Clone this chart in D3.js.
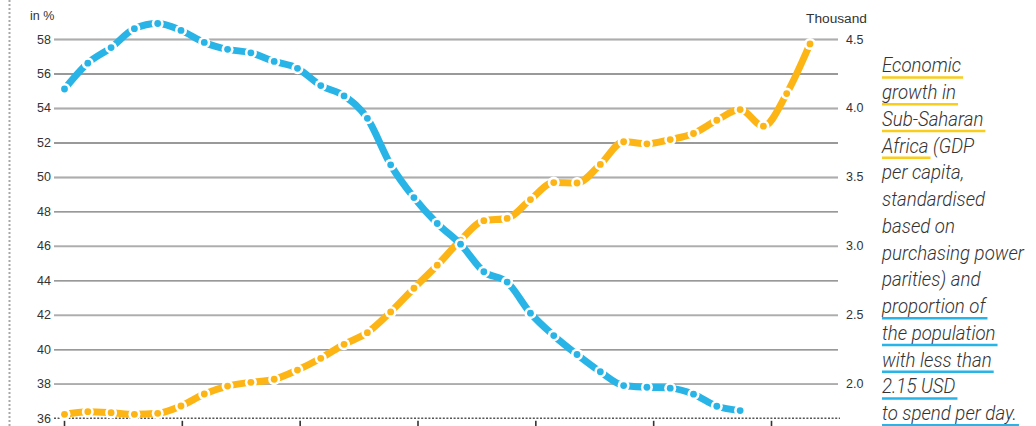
<!DOCTYPE html>
<html>
<head>
<meta charset="utf-8">
<script src="https://cdn.jsdelivr.net/npm/d3@7"></script>
<style>
  html, body { margin: 0; padding: 0; background: #fff; }
  svg { display: block; }
  .axis text { font-family: "Liberation Sans", Arial, sans-serif; font-size: 12.5px; fill: #333; }
  .unit { font-family: "Liberation Sans", Arial, sans-serif; font-size: 12.5px; fill: #333; }
  .legend text { font-family: Roboto, "Liberation Sans", sans-serif; font-style: italic; font-weight: 300; font-size: 19.5px; fill: #333; }
</style>
</head>
<body>
<svg id="chart" width="1036" height="426"></svg>
<script>
// Years covered by the two series
const years = d3.range(1990, 2023);

// Share of population living on less than 2.15 USD a day (in %), 1990–2019
const povertyShare = [
  55.1, 56.6, 57.5, 58.6, 58.9, 58.5, 57.8, 57.4, 57.2, 56.7,
  56.3, 55.3, 54.7, 53.4, 50.7, 48.8, 47.3, 46.1, 44.5, 43.9,
  42.1, 40.8, 39.7, 38.7, 37.9, 37.8, 37.75, 37.4, 36.7, 36.45
];

// GDP per capita, PPP (thousand), 1990–2022
const gdpPerCapita = [
  1.779, 1.798, 1.791, 1.779, 1.786, 1.839, 1.926, 1.984, 2.011, 2.033,
  2.100, 2.185, 2.286, 2.371, 2.521, 2.693, 2.860, 3.041, 3.183, 3.199,
  3.336, 3.459, 3.456, 3.591, 3.755, 3.740, 3.771, 3.815, 3.911, 3.988,
  3.868, 4.104, 4.464
];

// Axis ticks
const leftTicks = [36, 38, 40, 42, 44, 46, 48, 50, 52, 54, 56, 58];
const rightTicks = [2.0, 2.5, 3.0, 3.5, 4.0, 4.5];
const tickYears = [1990, 1995, 2000, 2005, 2010, 2015, 2020];

// Side caption, one entry per line; ul = underlined part
const legendLines = [
  { text: "Economic", ul: "Economic", series: "gdp" },
  { text: "growth in", ul: "growth in", series: "gdp" },
  { text: "Sub-Saharan", ul: "Sub-Saharan", series: "gdp" },
  { text: "Africa (GDP", ul: "Africa", series: "gdp" },
  { text: "per capita,", ul: null },
  { text: "standardised", ul: null },
  { text: "based on", ul: null },
  { text: "purchasing power", ul: null },
  { text: "parities) and", ul: null },
  { text: "proportion of", ul: "proportion of", series: "poverty" },
  { text: "the population", ul: "the population", series: "poverty" },
  { text: "with less than", ul: "with less than", series: "poverty" },
  { text: "2.15 USD", ul: "2.15 USD", series: "poverty" },
  { text: "to spend per day.", ul: "to spend per day.", series: "poverty" }
];

const colors = { poverty: "#29b4e7", gdp: "#fdb515" };
const underlineColors = { poverty: "#29b4e7", gdp: "#f8cd1c" };

const svg = d3.select("#chart");

const plotLeft = 54, plotRight = 838, plotTop = 39, plotBottom = 418.3;

const yLeft = d3.scaleLinear().domain([36, 58]).range([plotBottom, plotTop]);
const yRight = d3.scaleLinear().domain([1.75, 4.5]).range([plotBottom, plotTop]);
const x = d3.scaleLinear().domain([1990, 2022]).range([64.5, 810]);
const xTick = d3.scaleLinear().domain([1990, 2020]).range([64, 771]);

// Left-hand dotted frame
svg.append("line")
  .attr("x1", 9.5).attr("x2", 9.5).attr("y1", 0).attr("y2", 426)
  .attr("stroke", "#a8a8a8").attr("stroke-width", 2).attr("stroke-dasharray", "2,2");

// Left axis with dark gridlines
const gLeft = svg.append("g").attr("class", "axis")
  .attr("transform", `translate(${plotLeft},0)`)
  .call(d3.axisLeft(yLeft).tickValues(leftTicks).tickSize(-(plotRight - plotLeft)).tickPadding(3));
gLeft.select(".domain").remove();
gLeft.selectAll(".tick line").attr("stroke", "#777").attr("stroke-width", 1.4)
  .filter(d => d === 36).remove();

// Right axis with lighter gridlines over the shared levels
const gRight = svg.append("g").attr("class", "axis")
  .attr("transform", `translate(${plotRight},0)`)
  .call(d3.axisRight(yRight).tickValues(rightTicks).tickSize(-(plotRight - plotLeft)).tickPadding(8)
    .tickFormat(d3.format(".1f")));
gRight.select(".domain").remove();
gRight.selectAll(".tick line").attr("stroke", "#adadad").attr("stroke-width", 1.6);

// Dotted baseline
svg.append("line")
  .attr("x1", plotLeft).attr("x2", plotRight + 2).attr("y1", plotBottom).attr("y2", plotBottom)
  .attr("stroke", "#555").attr("stroke-width", 1.4).attr("stroke-dasharray", "2,1.6");

// Bottom tick marks
const gBottom = svg.append("g").attr("class", "axis")
  .attr("transform", `translate(0,${plotBottom + 2.5})`)
  .call(d3.axisBottom(xTick).tickValues(tickYears).tickSize(8).tickFormat(""));
gBottom.select(".domain").remove();
gBottom.selectAll(".tick line").attr("stroke", "#333").attr("stroke-width", 1.6);

// Unit labels
svg.append("text").attr("class", "unit").attr("x", 30).attr("y", 20).text("in %");
svg.append("text").attr("class", "unit").attr("x", 806).attr("y", 23)
  .attr("textLength", 61).attr("lengthAdjust", "spacingAndGlyphs").text("Thousand");

// Series: solid stroke broken up by dots that sit in a white halo
function drawSeries(values, yScale, color) {
  const pts = values.map((v, i) => ({ year: years[i], v }));
  const line = d3.line().x(d => x(d.year)).y(d => yScale(d.v)).curve(d3.curveMonotoneX);
  const g = svg.append("g");
  g.append("path").datum(pts)
    .attr("d", line).attr("fill", "none")
    .attr("stroke", color).attr("stroke-width", 7);
  g.selectAll("circle.halo").data(pts).join("circle").attr("class", "halo")
    .attr("cx", d => x(d.year)).attr("cy", d => yScale(d.v))
    .attr("r", 6).attr("fill", "#fff");
  g.selectAll("circle.dot").data(pts).join("circle").attr("class", "dot")
    .attr("cx", d => x(d.year)).attr("cy", d => yScale(d.v))
    .attr("r", 3.4).attr("fill", color);
}
drawSeries(gdpPerCapita, yRight, colors.gdp);
drawSeries(povertyShare, yLeft, colors.poverty);

// Caption with underlined keys, narrowed to a condensed width
const lx = 882, ly0 = 72.5, lh = 26.75;
const legendOuter = svg.append("g").attr("transform", `translate(${lx},0)`);
const legend = legendOuter.append("g").attr("class", "legend");
const texts = legendLines.map((l, i) =>
  legend.append("text").attr("x", 0).attr("y", ly0 + i * lh).text(l.text));
const refWidth = texts[7].node().getComputedTextLength();
const sx = 142 / refWidth;
legend.attr("transform", `scale(${sx},1)`);
legendLines.forEach((l, i) => {
  if (!l.ul) return;
  const y = ly0 + i * lh;
  const n = l.text.indexOf(l.ul);
  const w = texts[i].node().getSubStringLength(n, l.ul.length) * sx;
  legendOuter.insert("line", "g")
    .attr("x1", 0).attr("x2", w + 2)
    .attr("y1", y + 5).attr("y2", y + 5)
    .attr("stroke", underlineColors[l.series]).attr("stroke-width", 2.6);
});
</script>
</body>
</html>
